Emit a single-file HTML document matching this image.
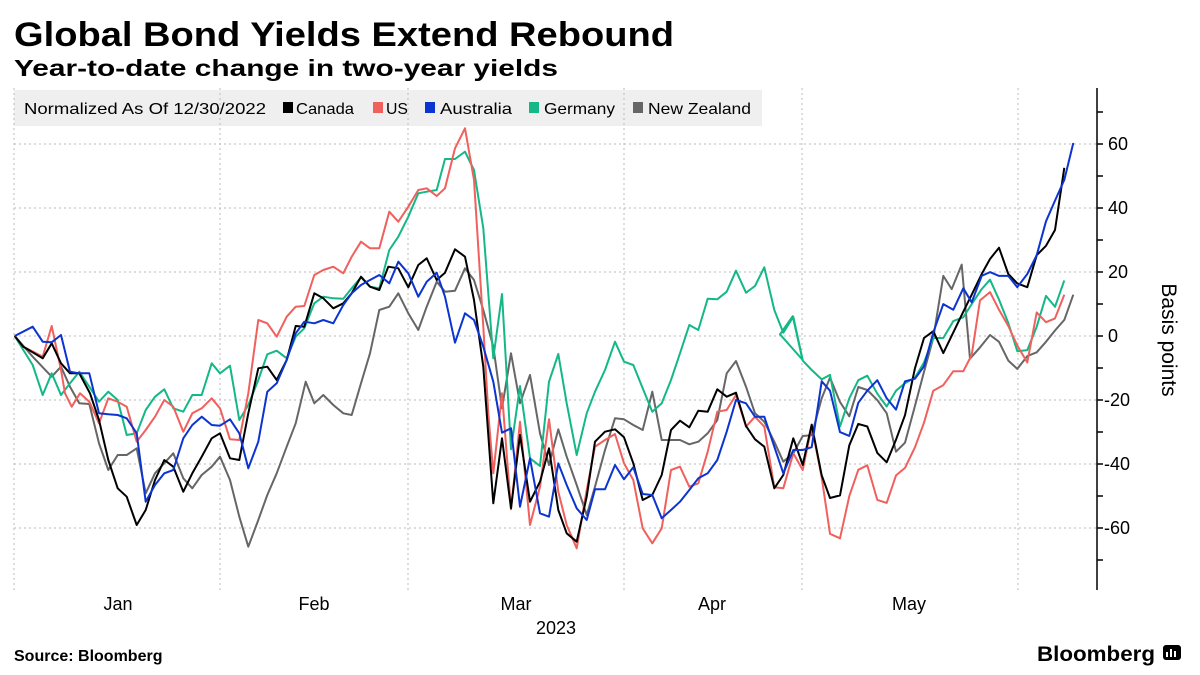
<!DOCTYPE html>
<html><head><meta charset="utf-8"><style>
html,body{margin:0;padding:0;background:#fff;}
svg{display:block;font-family:"Liberation Sans",sans-serif;}
</style></head><body>
<svg id="s" width="1200" height="675" viewBox="0 0 1200 675" xmlns="http://www.w3.org/2000/svg">
<text x="14" y="46" font-size="34" font-weight="bold" textLength="660" lengthAdjust="spacingAndGlyphs">Global Bond Yields Extend Rebound</text>
<text x="14" y="76" font-size="23" font-weight="bold" textLength="544" lengthAdjust="spacingAndGlyphs">Year-to-date change in two-year yields</text>
<rect x="14" y="90" width="748" height="36" fill="#efefef"/>
<g id="grid" stroke="#bbb" stroke-width="1" stroke-dasharray="2,3"></g>
<g font-size="16">
<text x="24" y="114" textLength="242" lengthAdjust="spacingAndGlyphs">Normalized As Of 12/30/2022</text>
<rect x="283" y="102" width="10" height="11" fill="#000"/><text x="296" y="114" textLength="58" lengthAdjust="spacingAndGlyphs">Canada</text>
<rect x="373" y="102" width="10" height="11" fill="#f0605d"/><text x="386" y="114" textLength="22" lengthAdjust="spacingAndGlyphs">US</text>
<rect x="425" y="102" width="10" height="11" fill="#0c34d0"/><text x="440" y="114" textLength="72" lengthAdjust="spacingAndGlyphs">Australia</text>
<rect x="529" y="102" width="10" height="11" fill="#14b887"/><text x="544" y="114" textLength="71" lengthAdjust="spacingAndGlyphs">Germany</text>
<rect x="633" y="102" width="10" height="11" fill="#666"/><text x="648" y="114" textLength="103" lengthAdjust="spacingAndGlyphs">New Zealand</text>
</g>
<g id="series" fill="none" stroke-width="2" stroke-linejoin="round"></g>
<line x1="1097" y1="88" x2="1097" y2="590" stroke="#000" stroke-width="1.5"/>
<g id="ticks" stroke="#000" stroke-width="1.5"></g>
<g font-size="18" id="ylab"></g>
<text transform="translate(1162,340) rotate(90)" font-size="21" text-anchor="middle">Basis points</text>
<g font-size="18" text-anchor="middle">
<text x="118" y="610">Jan</text><text x="314" y="610">Feb</text><text x="516" y="610">Mar</text><text x="712" y="610">Apr</text><text x="909" y="610">May</text><text x="556" y="634">2023</text>
</g>
<text x="14" y="661" font-size="16" font-weight="bold">Source: Bloomberg</text>
<text x="1037" y="661" font-size="21" font-weight="bold" textLength="118" lengthAdjust="spacingAndGlyphs">Bloomberg</text>
<rect x="1163" y="645" width="18" height="15" rx="3" fill="#000"/>
<path d="M1167 657v-5M1171 657v-8M1175 657v-6" stroke="#fff" stroke-width="2"/>
</svg>
<script>
var NS="http://www.w3.org/2000/svg";
function el(p,t,a){var e=document.createElementNS(NS,t);for(var k in a)e.setAttribute(k,a[k]);p.appendChild(e);return e;}
var g=document.getElementById('grid');
[-60,-40,-20,0,20,40,60].forEach(function(v){var y=336-v*3.2;el(g,'line',{x1:14,x2:1097,y1:y,y2:y});});
[14,220,408,624,802,1018].forEach(function(x){el(g,'line',{x1:x,x2:x,y1:88,y2:590});});
var tk=document.getElementById('ticks'),yl=document.getElementById('ylab');
for(var v=-70;v<=70;v+=10){var y=336-v*3.2;el(tk,'line',{x1:1097,x2:1103,y1:y,y2:y});
 if(v%20==0&&Math.abs(v)<=60){var t=el(yl,'text',{x:v<0?1104:1108,y:y+6});t.textContent=(v<0?'-':'')+Math.abs(v);}}
function z1(a){return a.map(function(p){return [p[0]/3,80+p[1]/3];});}
function z2(a){return a.map(function(p){return [400+p[0]/3,80+p[1]/3];});}
function z3(a){return a.map(function(p){return [780+p[0]/3,82+p[1]*0.3765];});}
var S={
ca:{col:'#000',a:[[44,768],[70,800],[128,835],[155,790],[183,850],[210,880],[238,880],[270,940],[297,1020],[325,1140],[353,1225],[380,1250],[410,1335],[437,1290],[465,1200],[493,1140],[520,1160],[550,1235],[577,1180],[605,1130],[635,1075],[660,1060],[690,1135],[718,1140],[745,1000],[775,865],[802,860],[830,900],[860,840],[887,738],[913,740],[943,640],[970,655],[1000,685],[1030,670],[1055,640],[1083,590],[1110,620],[1138,630],[1165,560],[1195,565],[1225,622]],
b:[[55,555],[80,535],[110,600],[135,578],[165,508],[195,530],[222,660],[250,860],[280,1270],[306,1075],[333,1285],[360,1065],[390,1265],[420,1205],[447,1105],[475,1290],[500,1360],[530,1385],[560,1250],[585,1085],[615,1055],[645,1048],[672,1072],[700,1150],[728,1260],[757,1245],[785,1185],[813,1050],[840,1022],[868,1042],[895,992],[923,995],[952,928],[980,950],[1008,938],[1038,1038],[1065,1078],[1093,1100],[1123,1225],[1150,1185],[1180,1075],[1208,1155]],
c:[[95,910],[125,1045],[150,1105],[180,1098],[208,965],[235,908],[262,915],[292,985],[320,1010],[348,950],[375,885],[405,760],[432,680],[460,662],[490,720],[520,665],[550,610],[575,565],[605,510],[630,470],[657,440],[685,510],[712,535],[742,545],[770,460],[798,435],[825,393],[853,228]]},
us:{col:'#f0605d',a:[[44,768],[70,800],[128,830],[155,738],[183,870],[195,940],[215,980],[240,940],[268,965],[297,1030],[325,955],[353,965],[380,980],[410,1085],[437,1050],[465,1010],[493,960],[520,980],[550,1055],[577,1000],[605,985],[635,955],[660,985],[690,1078],[718,1080],[745,940],[775,720],[802,730],[830,770],[860,710],[887,680],[913,678],[943,585],[970,570],[1000,560],[1030,580],[1055,530],[1083,485],[1110,505],[1138,505],[1168,395],[1195,425],[1225,380]],
b:[[55,330],[80,325],[110,348],[135,325],[165,205],[195,145],[222,300],[250,740],[265,1000],[280,1180],[306,940],[333,1288],[360,1025],[390,1335],[420,1220],[447,1018],[475,1235],[500,1335],[530,1405],[560,1230],[585,1100],[615,1080],[645,1062],[672,1150],[700,1200],[728,1345],[757,1390],[785,1345],[813,1170],[840,1160],[868,1220],[895,1210],[923,1115],[952,995],[980,990],[1008,945],[1038,1040],[1065,1010],[1093,1040],[1123,1222],[1150,1225],[1180,1120],[1208,1170]],
c:[[95,915],[125,1050],[150,1200],[180,1212],[208,1100],[235,1030],[262,1018],[292,1110],[320,1118],[348,1045],[375,1025],[405,970],[432,905],[460,820],[490,805],[520,768],[550,768],[575,725],[600,580],[630,558],[657,605],[685,648],[712,700],[742,745],[770,612],[798,638],[825,628],[853,565]]},
au:{col:'#0c34d0',a:[[44,768],[98,740],[128,785],[155,787],[183,765],[210,875],[238,880],[268,880],[297,1000],[325,1003],[353,1005],[380,1015],[410,1060],[437,1265],[465,1215],[493,1180],[520,1170],[550,1075],[577,1035],[605,1010],[635,1035],[660,1037],[690,1018],[718,1060],[745,1165],[775,1085],[802,935],[830,910],[860,840],[887,760],[913,725],[943,730],[970,720],[1000,730],[1030,675],[1055,640],[1083,615],[1110,600],[1138,585],[1168,610],[1195,545],[1225,580]],
b:[[55,650],[80,605],[110,578],[135,650],[165,788],[195,700],[222,720],[250,800],[280,905],[306,1058],[333,1045],[360,1280],[390,1135],[420,1300],[447,1310],[475,1150],[500,1215],[530,1285],[560,1320],[585,1228],[615,1228],[645,1155],[672,1198],[700,1162],[728,1242],[757,1245],[785,1315],[813,1290],[840,1265],[868,1230],[895,1195],[923,1180],[952,1140],[980,1055],[1008,960],[1038,970],[1065,1010],[1093,1010],[1123,1100],[1150,1180],[1180,1110],[1208,1110]],
c:[[95,970],[125,795],[150,820],[180,930],[208,940],[235,852],[262,820],[292,792],[320,840],[348,870],[375,795],[405,788],[432,755],[460,665],[490,590],[520,605],[550,548],[575,585],[605,515],[630,505],[657,515],[685,515],[712,545],[742,510],[770,460],[798,370],[825,315],[853,260],[880,162]]},
de:{col:'#14b887',a:[[44,768],[70,810],[98,855],[128,945],[155,880],[183,945],[210,910],[238,875],[268,920],[297,965],[325,935],[353,960],[380,1065],[410,1060],[437,990],[465,950],[493,928],[520,985],[550,995],[577,945],[605,945],[635,850],[660,880],[690,857],[718,1020],[745,975],[775,900],[802,823],[830,812],[860,835],[887,770],[913,745],[943,670],[970,650],[1000,655],[1030,656],[1055,625],[1083,592],[1110,620],[1138,625],[1168,510],[1195,470],[1225,410]],
b:[[55,340],[80,335],[110,330],[135,237],[165,237],[195,215],[222,270],[250,445],[280,835],[306,642],[333,1108],[360,918],[390,1135],[420,1158],[447,905],[475,822],[500,970],[530,1125],[560,1000],[585,935],[615,870],[645,785],[672,845],[700,855],[728,925],[757,995],[785,970],[813,900],[840,820],[868,735],[895,750],[923,656],[952,658],[980,635],[1008,572],[1038,638],[1065,618],[1093,562],[1123,690],[1150,758],[1180,710],[1208,840]],
c:[[0,670],[38,622],[68,740],[95,765],[125,790],[150,778],[180,915],[208,840],[235,792],[262,780],[292,828],[320,862],[348,820],[375,800],[405,785],[432,745],[460,680],[490,680],[520,635],[550,625],[575,590],[605,550],[630,525],[657,578],[685,640],[712,715],[742,712],[770,650],[798,568],[825,597],[853,527]]},
nz:{col:'#666',a:[[44,768],[98,830],[155,890],[183,860],[210,920],[238,970],[268,972],[297,1090],[325,1170],[353,1125],[380,1125],[410,1105],[437,1240],[465,1180],[520,1120],[550,1195],[577,1225],[605,1185],[635,1160],[660,1130],[690,1200],[718,1310],[745,1400],[775,1320],[802,1245],[830,1180],[860,1100],[887,1030],[917,905],[943,970],[970,945],[1000,975],[1030,1000],[1055,1005],[1083,910],[1110,820],[1138,690],[1168,680],[1195,640],[1225,700]],
b:[[55,750],[80,680],[110,605],[135,635],[165,632],[195,565],[222,600],[250,690],[280,800],[306,985],[333,820],[360,970],[390,885],[420,1060],[447,1155],[475,1048],[500,1130],[530,1215],[560,1305],[585,1220],[615,1110],[645,1015],[672,1018],[700,1035],[728,1050],[757,935],[785,1080],[813,1080],[840,1080],[868,1093],[895,1085],[923,1060],[952,1020],[980,880],[1008,843],[1038,920],[1065,1000],[1093,1025],[1123,1085],[1150,1145],[1180,1120],[1208,1068]],
c:[[95,938],[125,840],[150,785],[180,850],[208,888],[235,810],[262,818],[292,845],[320,880],[348,982],[375,958],[405,860],[432,770],[460,680],[490,515],[515,550],[545,485],[570,735],[600,705],[630,672],[657,690],[685,740],[712,762],[742,728],[770,718],[798,690],[825,660],[853,632],[880,565]]}
};
var sg=document.getElementById('series');
['nz','de','us','ca','au'].forEach(function(k){var s=S[k];
 var pts=z1(s.a).concat(z2(s.b)).concat(z3(s.c));
 el(sg,'polyline',{points:pts.map(function(p){return p[0].toFixed(1)+','+p[1].toFixed(1);}).join(' '),stroke:s.col});});
</script>
</body></html>
